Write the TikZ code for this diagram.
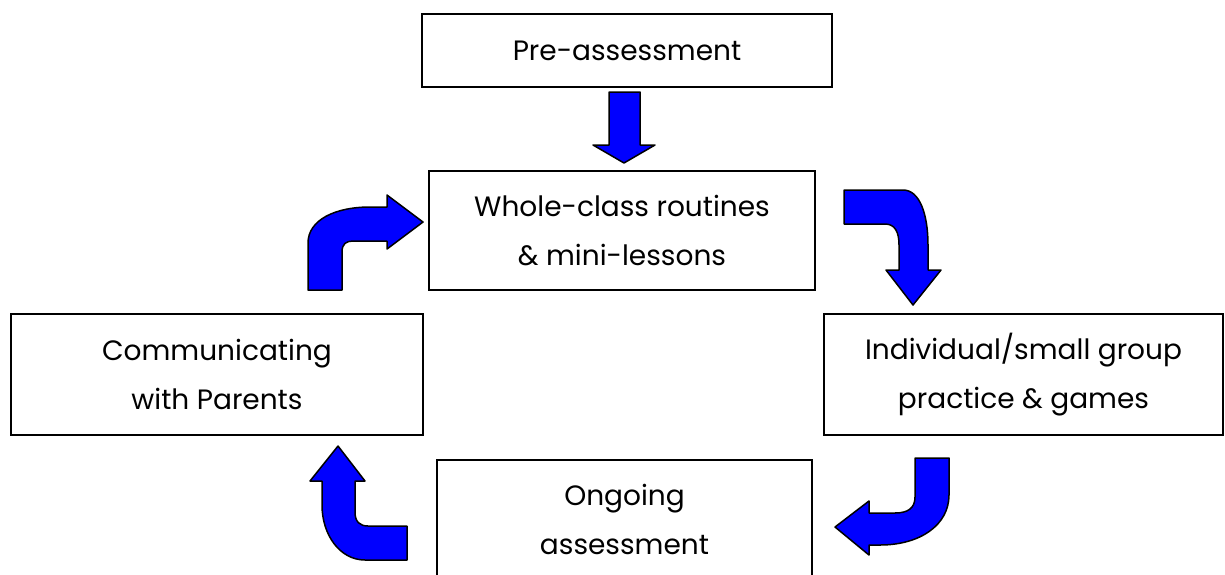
\documentclass[tikz,border=0pt]{standalone}
\usepackage{fontspec}
\setmainfont{Poppins}
\begin{document}
\begin{tikzpicture}[x=1pt,y=-1pt,
  box/.style={draw=black,line width=2pt,fill=white,align=center,inner sep=0pt,
    font=\fontsize{28}{49}\selectfont},
  blue arrow/.style={draw=black,line width=1.5pt,fill=blue,line join=round}]
\useasboundingbox (0,0) rectangle (1225,574);
% boxes
\node[box,minimum width=410pt,minimum height=73pt] (pre) at (627,50.5) {Pre-assessment};
\node[box,minimum width=386pt,minimum height=119pt] (whole) at (622,230.5) {Whole-class routines\\\& mini-lessons};
\node[box,minimum width=412pt,minimum height=121pt] (comm) at (217,374.5) {Communicating\\with Parents};
\node[box,minimum width=399pt,minimum height=121pt] (ind) at (1023.5,374.5) {Individual/small group\\practice \& games};
\begin{scope}
\clip (0,0) rectangle (1225,574);
\node[box,minimum width=375pt,minimum height=118pt] (ong) at (624.5,519) {Ongoing\\assessment};
\end{scope}
% down arrow
\draw[blue arrow] (609,92) -- (640,92) -- (640,145) -- (655,145) -- (624,163) -- (593,145) -- (609,145) -- cycle;
% upper-left arrow
\draw[blue arrow] (308,290) -- (308,243) .. controls (308,220) and (335,207) .. (370,207)
  -- (387,207) -- (387,195) -- (423,222) -- (387,249) -- (387,241) -- (353,241)
  .. controls (346,241) and (342,244) .. (342,252) -- (342,290) -- cycle;
% upper-right arrow
\draw[blue arrow] (844,190) -- (903,190) .. controls (920,190) and (928,215) .. (928,245)
  -- (928,270) -- (941,270) -- (913,305) -- (886,270) -- (899,270) -- (899,245)
  .. controls (899,232) and (895,224) .. (885,224) -- (844,224) -- cycle;
% lower-right arrow
\draw[blue arrow] (915,458) -- (949,458) -- (949,495) .. controls (949,525) and (920,545) .. (880,545)
  -- (869,545) -- (869,555) -- (835,527) -- (869,501) -- (869,513) -- (895,513)
  .. controls (908,513) and (915,508) .. (915,497) -- cycle;
% lower-left arrow
\draw[blue arrow] (322,481) -- (322,505) .. controls (322,535) and (340,560) .. (365,560)
  -- (407,560) -- (407,526) -- (368,526) .. controls (360,526) and (355,522) .. (355,512)
  -- (355,481) -- (365,481) -- (338,446) -- (310,481) -- cycle;
\end{tikzpicture}
\end{document}
